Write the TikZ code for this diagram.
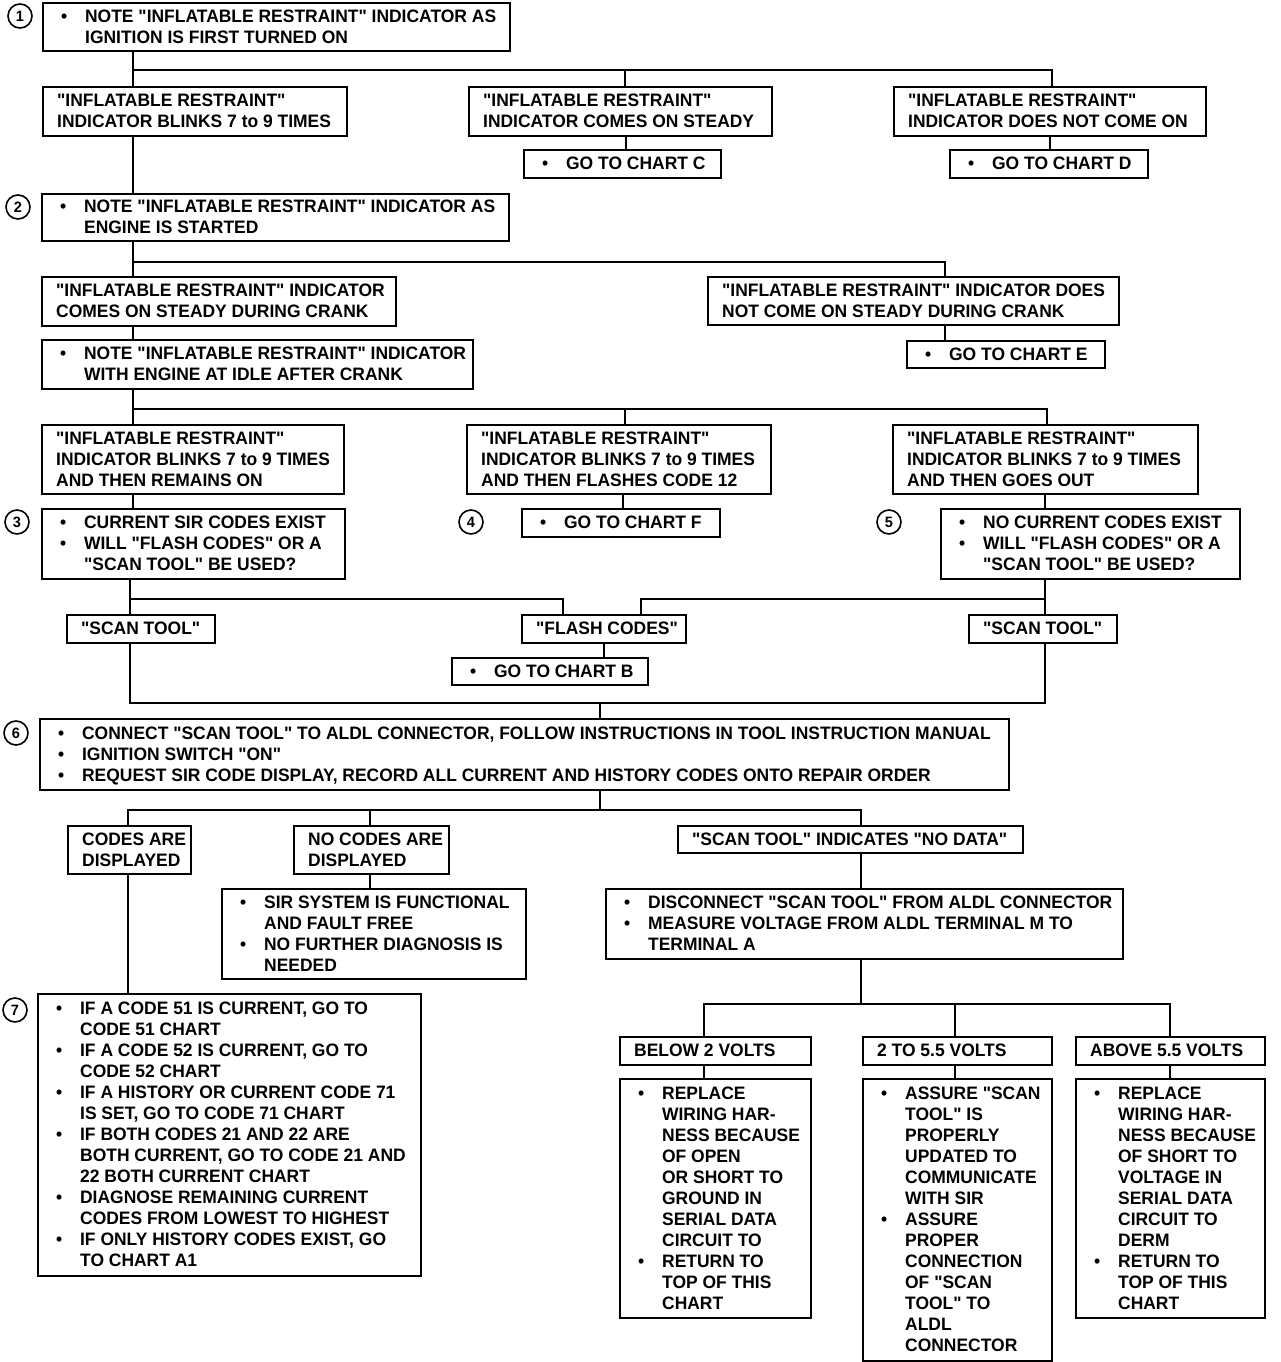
\documentclass[tikz,border=0pt]{standalone}
\usepackage{fontspec}
\newfontfamily\cf{Liberation Sans}[FakeStretch=0.97]
\newlength\boxtw
\newcommand\bul{\hspace*{4pt}\makebox[24pt][l]{\textbullet}}
\newcommand\ind{\hspace*{28pt}}
\tikzset{
  box/.style={draw, line width=2.3pt, anchor=north west, inner xsep=14pt, inner ysep=0pt,
    font=\cf\bfseries\fontsize{18}{21}\selectfont},
  num/.style={circle, draw, line width=1.6pt, inner sep=0pt, minimum size=24pt,
    font=\cf\bfseries\fontsize{15}{15}\selectfont},
  conn/.style={line width=2pt},
}
\newcommand\bx[6]{%
  \setlength\boxtw{\dimexpr#4pt-28pt\relax}%
  \node[box, minimum width=#4pt, minimum height=#5pt] (#1) at (#2,#3)
    {\raisebox{-1.5pt}[\height][\depth]{\makebox[\boxtw][l]{\begin{tabular}{@{}l@{}}#6\end{tabular}}}};}
\begin{document}
\begin{tikzpicture}[x=1pt,y=-1pt]
\useasboundingbox (0,0) rectangle (1280,1362);
\fill[white] (0,0) rectangle (1280,1362);
% numbers
\node[num] (n1) at (20,16) {1};
\node[num] (n2) at (18,207) {2};
\node[num] (n3) at (17,522) {3};
\node[num] (n4) at (471,522) {4};
\node[num] (n5) at (889,522) {5};
\node[num] (n6) at (16,733) {6};
\node[num] (n7) at (15,1010) {7};
% boxes
\bx{b1}{42}{2}{467}{48}{\bul NOTE "INFLATABLE RESTRAINT" INDICATOR AS\\\ind IGNITION IS FIRST TURNED ON}
\bx{bA}{42}{86}{304}{49}{"INFLATABLE RESTRAINT"\\INDICATOR BLINKS 7 to 9 TIMES}
\bx{bB}{468}{86}{303}{49}{"INFLATABLE RESTRAINT"\\INDICATOR COMES ON STEADY}
\bx{bC}{893}{86}{312}{49}{"INFLATABLE RESTRAINT"\\INDICATOR DOES NOT COME ON}
\bx{cC}{523}{149}{197}{28}{\bul GO TO CHART C}
\bx{cD}{949}{149}{198}{28}{\bul GO TO CHART D}
\bx{b2}{41}{193}{467}{47}{\bul NOTE "INFLATABLE RESTRAINT" INDICATOR AS\\\ind ENGINE IS STARTED}
\bx{bDa}{41}{276}{354}{49}{"INFLATABLE RESTRAINT" INDICATOR\\COMES ON STEADY DURING CRANK}
\bx{bE}{707}{276}{411}{48}{"INFLATABLE RESTRAINT" INDICATOR DOES\\NOT COME ON STEADY DURING CRANK}
\bx{cE}{906}{340}{198}{27}{\bul GO TO CHART E}
\bx{bI}{41}{339}{431}{49}{\bul NOTE "INFLATABLE RESTRAINT" INDICATOR\\\ind WITH ENGINE AT IDLE AFTER CRANK}
\bx{bF}{41}{424}{302}{69}{"INFLATABLE RESTRAINT"\\INDICATOR BLINKS 7 to 9 TIMES\\AND THEN REMAINS ON}
\bx{bG}{466}{424}{304}{69}{"INFLATABLE RESTRAINT"\\INDICATOR BLINKS 7 to 9 TIMES\\AND THEN FLASHES CODE 12}
\bx{bH}{892}{424}{305}{69}{"INFLATABLE RESTRAINT"\\INDICATOR BLINKS 7 to 9 TIMES\\AND THEN GOES OUT}
\bx{b3}{41}{508}{303}{70}{\bul CURRENT SIR CODES EXIST\\\bul WILL "FLASH CODES" OR A\\\ind "SCAN TOOL" BE USED?}
\bx{cF}{521}{508}{198}{28}{\bul GO TO CHART F}
\bx{b5}{940}{508}{299}{70}{\bul NO CURRENT CODES EXIST\\\bul WILL "FLASH CODES" OR A\\\ind "SCAN TOOL" BE USED?}
\bx{sL}{66}{614}{148}{28}{"SCAN TOOL"}
\bx{fl}{521}{614}{164}{28}{"FLASH CODES"}
\bx{sR}{968}{614}{148}{28}{"SCAN TOOL"}
\bx{cB}{451}{657}{196}{27}{\bul GO TO CHART B}
\bx{b6}{39}{718}{969}{71}{\bul CONNECT "SCAN TOOL" TO ALDL CONNECTOR, FOLLOW INSTRUCTIONS IN TOOL INSTRUCTION MANUAL\\\bul IGNITION SWITCH "ON"\\\bul REQUEST SIR CODE DISPLAY, RECORD ALL CURRENT AND HISTORY CODES ONTO REPAIR ORDER}
\bx{cad}{67}{825}{123}{48}{CODES ARE\\DISPLAYED}
\bx{ncd}{293}{825}{155}{48}{NO CODES ARE\\DISPLAYED}
\bx{nd}{677}{825}{345}{27}{"SCAN TOOL" INDICATES "NO DATA"}
\bx{sir}{221}{888}{304}{90}{\bul SIR SYSTEM IS FUNCTIONAL\\\ind AND FAULT FREE\\\bul NO FURTHER DIAGNOSIS IS\\\ind NEEDED}
\bx{dis}{605}{888}{517}{70}{\bul DISCONNECT "SCAN TOOL" FROM ALDL CONNECTOR\\\bul MEASURE VOLTAGE FROM ALDL TERMINAL M TO\\\ind TERMINAL A}
\bx{b7}{37}{993}{383}{282}{\bul IF A CODE 51 IS CURRENT, GO TO\\\ind CODE 51 CHART\\\bul IF A CODE 52 IS CURRENT, GO TO\\\ind CODE 52 CHART\\\bul IF A HISTORY OR CURRENT CODE 71\\\ind IS SET, GO TO CODE 71 CHART\\\bul IF BOTH CODES 21 AND 22 ARE\\\ind BOTH CURRENT, GO TO CODE 21 AND\\\ind 22 BOTH CURRENT CHART\\\bul DIAGNOSE REMAINING CURRENT\\\ind CODES FROM LOWEST TO HIGHEST\\\bul IF ONLY HISTORY CODES EXIST, GO\\\ind TO CHART A1}
\bx{v1}{619}{1036}{191}{28}{BELOW 2 VOLTS}
\bx{v2}{862}{1036}{189}{28}{2 TO 5.5 VOLTS}
\bx{v3}{1075}{1036}{189}{28}{ABOVE 5.5 VOLTS}
\bx{d1}{619}{1078}{191}{239}{\bul REPLACE\\\ind WIRING HAR-\\\ind NESS BECAUSE\\\ind OF OPEN\\\ind OR SHORT TO\\\ind GROUND IN\\\ind SERIAL DATA\\\ind CIRCUIT TO\\\bul RETURN TO\\\ind TOP OF THIS\\\ind CHART}
\bx{d2}{862}{1078}{189}{282}{\bul ASSURE "SCAN\\\ind TOOL" IS\\\ind PROPERLY\\\ind UPDATED TO\\\ind COMMUNICATE\\\ind WITH SIR\\\bul ASSURE\\\ind PROPER\\\ind CONNECTION\\\ind OF "SCAN\\\ind TOOL" TO\\\ind ALDL\\\ind CONNECTOR}
\bx{d3}{1075}{1078}{189}{239}{\bul REPLACE\\\ind WIRING HAR-\\\ind NESS BECAUSE\\\ind OF SHORT TO\\\ind VOLTAGE IN\\\ind SERIAL DATA\\\ind CIRCUIT TO\\\ind DERM\\\bul RETURN TO\\\ind TOP OF THIS\\\ind CHART}
% junction coordinates
\coordinate (j1L) at (133,70); \coordinate (j1M) at (625,70); \coordinate (j1R) at (1052,70);
\coordinate (xC) at (626,0); \coordinate (xD) at (1050,0); \coordinate (xA) at (133,0);
\coordinate (j2L) at (133,262); \coordinate (j2R) at (945,262);
\coordinate (j3L) at (133,409); \coordinate (j3M) at (625,409); \coordinate (j3R) at (1047,409);
\coordinate (xG) at (623,0); \coordinate (xH) at (1045,0);
\coordinate (j4L) at (130,599); \coordinate (j4a) at (563,599); \coordinate (j4b) at (641,599); \coordinate (j4R) at (1045,599);
\coordinate (xB) at (604,0);
\coordinate (j5L) at (130,703); \coordinate (j5M) at (600,703); \coordinate (j5R) at (1045,703);
\coordinate (j6L) at (128,810); \coordinate (j6a) at (370,810); \coordinate (j6M) at (600,810); \coordinate (j6R) at (861,810);
\coordinate (j7L) at (704,1004); \coordinate (j7M) at (861,1004); \coordinate (j7a) at (955,1004); \coordinate (j7R) at (1170,1004);
% connectors
\draw[conn] (b1.south -| j1L) -- (bA.north -| j1L);
\draw[conn] (j1L) -- (j1R) -- (bC.north -| j1R);
\draw[conn] (j1M) -- (bB.north -| j1M);
\draw[conn] (bB.south -| xC) -- (cC.north -| xC);
\draw[conn] (bC.south -| xD) -- (cD.north -| xD);
\draw[conn] (bA.south -| xA) -- (b2.north -| xA);
\draw[conn] (b2.south -| j2L) -- (bDa.north -| j2L);
\draw[conn] (j2L) -- (j2R) -- (bE.north -| j2R);
\draw[conn] (bE.south -| j2R) -- (cE.north -| j2R);
\draw[conn] (bDa.south -| xA) -- (bI.north -| xA);
\draw[conn] (bI.south -| j3L) -- (bF.north -| j3L);
\draw[conn] (j3L) -- (j3R) -- (bH.north -| j3R);
\draw[conn] (j3M) -- (bG.north -| j3M);
\draw[conn] (bF.south -| xA) -- (b3.north -| xA);
\draw[conn] (bG.south -| xG) -- (cF.north -| xG);
\draw[conn] (bH.south -| xH) -- (b5.north -| xH);
\draw[conn] (b3.south -| j4L) -- (sL.north -| j4L);
\draw[conn] (j4L) -- (j4a) -- (fl.north -| j4a);
\draw[conn] (b5.south -| j4R) -- (sR.north -| j4R);
\draw[conn] (j4R) -- (j4b) -- (fl.north -| j4b);
\draw[conn] (fl.south -| xB) -- (cB.north -| xB);
\draw[conn] (sL.south -| j5L) -- (j5L) -- (j5R) -- (sR.south -| j5R);
\draw[conn] (j5M) -- (b6.north -| j5M);
\draw[conn] (b6.south -| j6M) -- (j6M);
\draw[conn] (cad.north -| j6L) -- (j6L) -- (j6R) -- (nd.north -| j6R);
\draw[conn] (j6a) -- (ncd.north -| j6a);
\draw[conn] (ncd.south -| j6a) -- (sir.north -| j6a);
\draw[conn] (cad.south -| j6L) -- (b7.north -| j6L);
\draw[conn] (nd.south -| j6R) -- (dis.north -| j6R);
\draw[conn] (dis.south -| j7M) -- (j7M);
\draw[conn] (v1.north -| j7L) -- (j7L) -- (j7R) -- (v3.north -| j7R);
\draw[conn] (j7a) -- (v2.north -| j7a);
\draw[conn] (v1.south -| j7L) -- (d1.north -| j7L);
\draw[conn] (v2.south -| j7a) -- (d2.north -| j7a);
\draw[conn] (v3.south -| j7R) -- (d3.north -| j7R);
\end{tikzpicture}
\end{document}
